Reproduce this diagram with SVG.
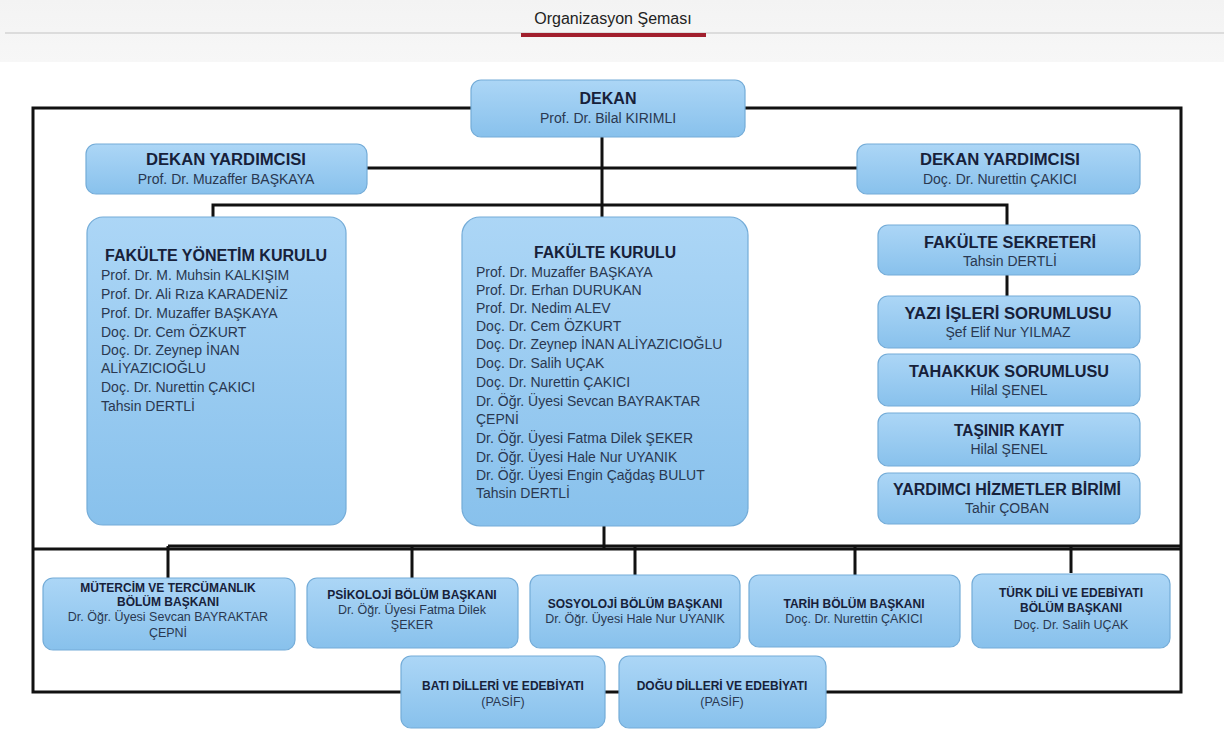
<svg xmlns="http://www.w3.org/2000/svg" width="1224" height="731" viewBox="0 0 1224 731">
<style>
.box{fill:url(#g);stroke:#74acd8;stroke-width:1.2}
.ln{fill:none;stroke:#111;stroke-width:3}
text{font-family:"Liberation Sans",Arial,sans-serif}
.t{font-weight:bold;fill:#17213a;text-anchor:middle}
.n{fill:#2a3850;text-anchor:middle}
.l{fill:#2a3850}
.t16{font-size:16px}
.n14{font-size:14px}
.tb{font-size:12px}
.nb{font-size:12.5px}
</style>
<defs>
<linearGradient id="g" x1="0" y1="0" x2="0" y2="1">
<stop offset="0" stop-color="#acd6f6"/>
<stop offset="1" stop-color="#88c1ec"/>
</linearGradient>
<linearGradient id="hd" x1="0" y1="0" x2="0" y2="1">
<stop offset="0" stop-color="#f3f3f3"/>
<stop offset="1" stop-color="#f7f7f7"/>
</linearGradient>
</defs>
<rect width="1224" height="731" fill="#fff"/>
<g id="header">
<rect x="0" y="0" width="1224" height="62" fill="url(#hd)"/>
<rect x="5" y="32" width="1219" height="2" fill="#dcdcdc"/>
<rect x="521" y="33" width="185" height="4" fill="#a11f2d"/>
<text x="613" y="24" font-size="16" fill="#222" text-anchor="middle">Organizasyon Şeması</text>
</g>
<g id="connectors">
<path class="ln" d="M33,108 H1181 V692 H33 Z"/>
<path class="ln" d="M33,549 H1181"/>
<path class="ln" d="M168,546 H1181"/>
<path class="ln" d="M602,137 V217"/>
<path class="ln" d="M367,168 H857"/>
<path class="ln" d="M213,217 V205 H1007 V225"/>
<path class="ln" d="M1007,275 V296"/>
<path class="ln" d="M604,526 V548"/>
<path class="ln" d="M168,546 V578 M412,546 V578 M635,546 V575 M855,546 V575 M1071,546 V573"/>
</g>
<g id="dekan">
<rect class="box" x="471" y="80" width="274" height="57" rx="10"/>
<text class="t t16" x="608" y="104">DEKAN</text>
<text class="n n14" x="608" y="123">Prof. Dr. Bilal KIRIMLI</text>
</g>
<g id="dy-left">
<rect class="box" x="86" y="144" width="281" height="50" rx="10"/>
<text class="t t16" x="226" y="165" textLength="160" lengthAdjust="spacingAndGlyphs">DEKAN YARDIMCISI</text>
<text class="n n14" x="226" y="184">Prof. Dr. Muzaffer BAŞKAYA</text>
</g>
<g id="dy-right">
<rect class="box" x="857" y="144" width="283" height="50" rx="10"/>
<text class="t t16" x="1000" y="165" textLength="160" lengthAdjust="spacingAndGlyphs">DEKAN YARDIMCISI</text>
<text class="n n14" x="1000" y="184">Doç. Dr. Nurettin ÇAKICI</text>
</g>
<g id="fyk">
<rect class="box" x="87" y="217" width="259" height="308" rx="16"/>
<text class="t t16" x="216" y="261" textLength="222" lengthAdjust="spacingAndGlyphs">FAKÜLTE YÖNETİM KURULU</text>
<g class="l n14">
<text x="101" y="280">Prof. Dr. M. Muhsin KALKIŞIM</text>
<text x="101" y="299">Prof. Dr. Ali Rıza KARADENİZ</text>
<text x="101" y="318">Prof. Dr. Muzaffer BAŞKAYA</text>
<text x="101" y="337">Doç. Dr. Cem ÖZKURT</text>
<text x="101" y="355">Doç. Dr. Zeynep İNAN</text>
<text x="101" y="373">ALİYAZICIOĞLU</text>
<text x="101" y="392">Doç. Dr. Nurettin ÇAKICI</text>
<text x="101" y="411">Tahsin DERTLİ</text>
</g>
</g>
<g id="fk">
<rect class="box" x="462" y="217" width="286" height="309" rx="18"/>
<text class="t t16" x="605" y="258" textLength="142" lengthAdjust="spacingAndGlyphs">FAKÜLTE KURULU</text>
<g class="l n14">
<text x="476" y="277">Prof. Dr. Muzaffer BAŞKAYA</text>
<text x="476" y="295">Prof. Dr. Erhan DURUKAN</text>
<text x="476" y="313">Prof. Dr. Nedim ALEV</text>
<text x="476" y="331">Doç. Dr. Cem ÖZKURT</text>
<text x="476" y="349">Doç. Dr. Zeynep İNAN ALİYAZICIOĞLU</text>
<text x="476" y="368">Doç. Dr. Salih UÇAK</text>
<text x="476" y="387">Doç. Dr. Nurettin ÇAKICI</text>
<text x="476" y="406">Dr. Öğr. Üyesi Sevcan BAYRAKTAR</text>
<text x="476" y="424">ÇEPNİ</text>
<text x="476" y="443">Dr. Öğr. Üyesi Fatma Dilek ŞEKER</text>
<text x="476" y="462">Dr. Öğr. Üyesi Hale Nur UYANIK</text>
<text x="476" y="480">Dr. Öğr. Üyesi Engin Çağdaş BULUT</text>
<text x="476" y="498">Tahsin DERTLİ</text>
</g>
</g>
<g id="sekreter">
<rect class="box" x="878" y="225" width="262" height="50" rx="10"/>
<text class="t t16" x="1010" y="248" textLength="172" lengthAdjust="spacingAndGlyphs">FAKÜLTE SEKRETERİ</text>
<text class="n n14" x="1010" y="266">Tahsin DERTLİ</text>
</g>
<g id="yazi">
<rect class="box" x="878" y="296" width="262" height="52" rx="10"/>
<text class="t t16" x="1008" y="319" textLength="207" lengthAdjust="spacingAndGlyphs">YAZI İŞLERİ SORUMLUSU</text>
<text class="n n14" x="1008" y="337">Şef Elif Nur YILMAZ</text>
</g>
<g id="tahakkuk">
<rect class="box" x="878" y="354" width="262" height="52" rx="10"/>
<text class="t t16" x="1009" y="377" textLength="200" lengthAdjust="spacingAndGlyphs">TAHAKKUK SORUMLUSU</text>
<text class="n n14" x="1009" y="395">Hilal ŞENEL</text>
</g>
<g id="tasinir">
<rect class="box" x="878" y="413" width="262" height="53" rx="10"/>
<text class="t t16" x="1009" y="436" textLength="110" lengthAdjust="spacingAndGlyphs">TAŞINIR KAYIT</text>
<text class="n n14" x="1009" y="454">Hilal ŞENEL</text>
</g>
<g id="yardimci">
<rect class="box" x="878" y="473" width="262" height="51" rx="10"/>
<text class="t t16" x="1007" y="495" textLength="228" lengthAdjust="spacingAndGlyphs">YARDIMCI HİZMETLER BİRİMİ</text>
<text class="n n14" x="1007" y="513">Tahir ÇOBAN</text>
</g>
<g id="mutercim">
<rect class="box" x="43" y="578" width="252" height="72" rx="10"/>
<text class="t tb" x="168" y="592">MÜTERCİM VE TERCÜMANLIK</text>
<text class="t tb" x="168" y="606">BÖLÜM BAŞKANI</text>
<text class="n nb" x="168" y="621">Dr. Öğr. Üyesi Sevcan BAYRAKTAR</text>
<text class="n nb" x="168" y="637">ÇEPNİ</text>
</g>
<g id="psikoloji">
<rect class="box" x="307" y="578" width="211" height="70" rx="10"/>
<text class="t tb" x="412" y="599">PSİKOLOJİ BÖLÜM BAŞKANI</text>
<text class="n nb" x="412" y="614">Dr. Öğr. Üyesi Fatma Dilek</text>
<text class="n nb" x="412" y="629">ŞEKER</text>
</g>
<g id="sosyoloji">
<rect class="box" x="530" y="575" width="210" height="73" rx="10"/>
<text class="t tb" x="635" y="608">SOSYOLOJİ BÖLÜM BAŞKANI</text>
<text class="n nb" x="635" y="623">Dr. Öğr. Üyesi Hale Nur UYANIK</text>
</g>
<g id="tarih">
<rect class="box" x="749" y="575" width="211" height="72" rx="10"/>
<text class="t tb" x="854" y="608">TARİH BÖLÜM BAŞKANI</text>
<text class="n nb" x="854" y="623">Doç. Dr. Nurettin ÇAKICI</text>
</g>
<g id="turkdili">
<rect class="box" x="972" y="574" width="198" height="74" rx="10"/>
<text class="t tb" x="1071" y="597">TÜRK DİLİ VE EDEBİYATI</text>
<text class="t tb" x="1071" y="612">BÖLÜM BAŞKANI</text>
<text class="n nb" x="1071" y="629">Doç. Dr. Salih UÇAK</text>
</g>
<g id="bati">
<rect class="box" x="401" y="656" width="204" height="72" rx="10"/>
<text class="t tb" x="503" y="690">BATI DİLLERİ VE EDEBİYATI</text>
<text class="n nb" x="503" y="706">(PASİF)</text>
</g>
<g id="dogu">
<rect class="box" x="619" y="656" width="207" height="72" rx="10"/>
<text class="t tb" x="722" y="690">DOĞU DİLLERİ VE EDEBİYATI</text>
<text class="n nb" x="722" y="706">(PASİF)</text>
</g>
</svg>
